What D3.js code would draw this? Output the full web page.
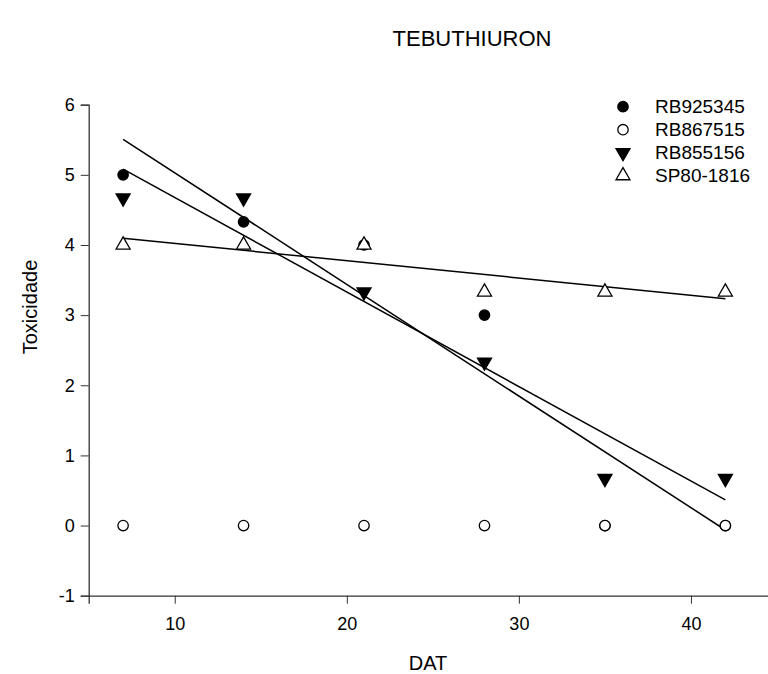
<!DOCTYPE html>
<html>
<head>
<meta charset="utf-8">
<script src="https://cdn.jsdelivr.net/npm/d3@7"></script>
<style>
  body { margin: 0; background: #fff; }
  svg { display: block; font-family: "Liberation Sans", Arial, sans-serif; }
  text { fill: #000; }
</style>
</head>
<body>
<div id="chart"></div>
<script>
// Toxicity vs days after treatment, one series per cultivar
const dat = [7, 14, 21, 28, 35, 42];
const seriesNames = ["RB925345", "RB867515", "RB855156", "SP80-1816"];
const rb925345 = [5, 4.33, 4, 3, 0, 0];
const rb867515 = [0, 0, 0, 0, 0, 0];
const rb855156 = [4.67, 4.67, 3.33, 2.33, 0.67, 0.67];
const sp801816 = [4, 4, 4, 3.33, 3.33, 3.33];
const xTicks = [10, 20, 30, 40];
const yTicks = [-1, 0, 1, 2, 3, 4, 5, 6];

const width = 768, height = 674;

const x = d3.scaleLinear().domain([5, 45]).range([88.7, 777]);
const y = d3.scaleLinear().domain([-1, 6]).range([595.7, 104.7]);

const svg = d3.select("#chart").append("svg")
    .attr("width", width)
    .attr("height", height);

// marker symbols
const symbols = {
    RB925345: { type: d3.symbolCircle, size: 85, fill: "#000" },
    RB867515: { type: d3.symbolCircle, size: 85, fill: "#fff" },
    RB855156: { type: d3.symbolTriangle, size: 85, fill: "#000", rot: 180 },
    "SP80-1816": { type: d3.symbolTriangle, size: 85, fill: "#fff", rot: 0 }
};
const seriesData = [rb925345, rb867515, rb855156, sp801816];

// least squares fit
function fit(xs, ys) {
    const mx = d3.mean(xs), my = d3.mean(ys);
    const sxy = d3.sum(xs, (v, i) => (v - mx) * (ys[i] - my));
    const sxx = d3.sum(xs, v => (v - mx) * (v - mx));
    const b = sxy / sxx;
    return v => my + b * (v - mx);
}

const fmt = d => String(d).replace("\u2212", "-");

// axes
const xAxis = svg.append("g")
    .attr("transform", `translate(0,${y(-1)})`)
    .call(d3.axisBottom(x).tickValues(xTicks).tickFormat(fmt).tickSize(8).tickPadding(14));
const yAxis = svg.append("g")
    .attr("transform", `translate(${x(5)},0)`)
    .call(d3.axisLeft(y).tickValues(yTicks).tickFormat(fmt).tickSize(8).tickPadding(6));
[xAxis, yAxis].forEach(a => {
    a.select(".domain").attr("stroke", "#333").attr("stroke-width", 1.3);
    a.selectAll(".tick line").attr("stroke", "#333").attr("stroke-width", 1);
    a.selectAll("text").attr("fill", "#000").style("font-size", "18px")
        .style("font-family", "'Liberation Sans', Arial, sans-serif");
});

// regression lines (drawn for the three changing series)
[rb925345, rb855156, sp801816].forEach(ys => {
    const f = fit(dat, ys);
    svg.append("line")
        .attr("x1", x(dat[0])).attr("y1", y(f(dat[0])))
        .attr("x2", x(dat[dat.length - 1])).attr("y2", y(f(dat[dat.length - 1])))
        .attr("stroke", "#000")
        .attr("stroke-width", 1.5);
});

// points
seriesNames.forEach((name, si) => {
    const s = symbols[name];
    const sym = d3.symbol().type(s.type).size(s.size);
    svg.append("g").selectAll("path")
        .data(seriesData[si])
        .enter()
        .append("path")
        .attr("d", sym)
        .attr("transform", (d, i) => `translate(${x(dat[i])},${y(d)}) rotate(${s.rot || 0})`)
        .attr("fill", s.fill)
        .attr("stroke", "#000")
        .attr("stroke-width", 1.3);
});

// legend
const legend = svg.append("g");
seriesNames.forEach((name, i) => {
    const s = symbols[name];
    const ly = 106.7 + i * 23;
    legend.append("path")
        .attr("d", d3.symbol().type(s.type).size(s.size)())
        .attr("transform", `translate(623,${ly}) rotate(${s.rot || 0})`)
        .attr("fill", s.fill)
        .attr("stroke", "#000")
        .attr("stroke-width", 1.3);
    legend.append("text")
        .attr("x", 655).attr("y", ly)
        .attr("dy", "0.35em")
        .style("font-size", "19px")
        .text(name);
});

// titles
svg.append("text")
    .attr("x", 472).attr("y", 38)
    .attr("dy", "0.35em")
    .attr("text-anchor", "middle")
    .style("font-size", "22px")
    .text("TEBUTHIURON");

svg.append("text")
    .attr("x", 428).attr("y", 663)
    .attr("dy", "0.35em")
    .attr("text-anchor", "middle")
    .style("font-size", "20px")
    .text("DAT");

svg.append("text")
    .attr("transform", "translate(30,307) rotate(-90)")
    .attr("dy", "0.35em")
    .attr("text-anchor", "middle")
    .style("font-size", "20px")
    .text("Toxicidade");
</script>
</body>
</html>
